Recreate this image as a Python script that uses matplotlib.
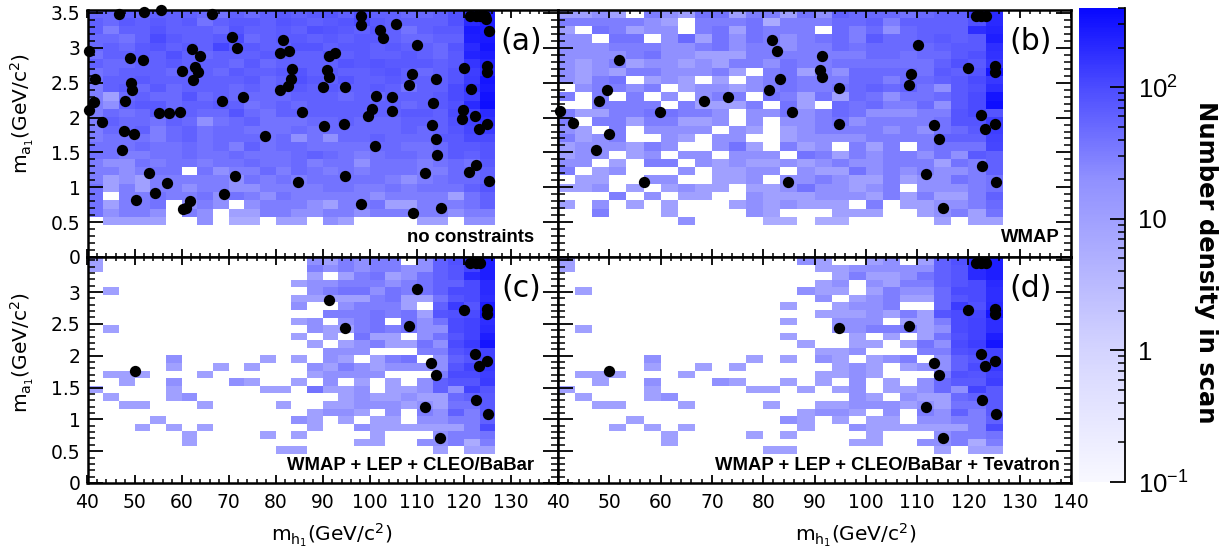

# Four panel scan density maps with a shared log colour scale
import numpy as np
import matplotlib
matplotlib.use("Agg")
import matplotlib.pyplot as plt
from matplotlib.colors import LinearSegmentedColormap, LogNorm
from matplotlib.ticker import MultipleLocator, NullFormatter

# density per cell, top row first, 0 means empty
density_a = [
    [50,50,60,50,60,60,60,50,40,60,50,60,70,60,70,80,60,90,60,60,50,50,60,90,200,250],
    [60,50,70,60,70,60,70,40,60,70,70,60,80,70,60,70,80,100,70,60,60,60,60,90,200,240],
    [60,30,60,60,80,60,60,60,50,80,60,60,70,60,90,80,70,60,80,60,40,60,70,70,280,260],
    [50,50,40,60,100,70,60,60,70,100,50,60,70,70,60,70,60,70,70,60,50,50,60,60,250,280],
    [50,60,50,70,80,60,70,60,110,70,70,60,60,80,80,60,70,70,60,70,60,60,50,80,200,300],
    [40,60,60,70,60,90,60,50,60,60,60,70,70,60,60,80,60,70,60,60,70,60,50,70,230,260],
    [60,50,50,60,60,70,60,60,60,50,70,50,60,60,60,60,80,70,80,70,70,70,60,70,160,220],
    [40,50,60,60,60,50,60,60,50,70,60,60,70,80,60,70,60,60,70,80,60,50,60,80,130,200],
    [40,60,60,70,60,60,60,60,60,60,70,50,60,90,70,60,80,60,60,70,60,60,60,80,140,300],
    [30,60,70,50,70,50,60,60,60,50,60,50,70,70,60,70,60,60,70,60,40,60,60,100,170,280],
    [30,10,50,60,50,50,80,50,60,50,50,50,50,60,60,60,50,60,50,60,60,60,70,100,130,320],
    [30,20,60,70,70,50,60,60,70,60,40,50,60,50,60,60,60,60,60,60,50,60,70,90,190,350],
    [30,50,40,50,70,60,60,50,50,80,50,40,60,60,60,60,60,60,60,60,70,70,60,100,120,190],
    [30,60,50,50,40,60,50,20,40,50,60,40,40,40,50,50,60,50,50,50,60,60,60,90,120,170],
    [30,50,50,60,30,50,60,40,50,50,40,40,40,50,40,50,50,50,50,50,60,50,60,80,110,140],
    [30,40,40,40,30,50,60,40,50,50,50,40,50,20,40,20,50,50,60,50,50,50,70,70,100,100],
    [40,40,40,50,40,40,50,40,50,30,60,40,50,50,40,40,40,40,50,50,40,40,50,70,70,80],
    [40,40,30,30,40,40,50,40,40,50,40,40,40,50,60,50,40,30,40,50,50,40,50,70,60,80],
    [30,20,20,40,30,40,40,30,40,40,50,40,40,50,30,40,40,20,40,40,40,30,40,50,40,70],
    [30,30,20,30,40,40,0,40,20,30,30,50,30,50,40,30,40,30,40,40,40,30,30,50,50,60],
    [30,10,20,10,30,30,30,30,30,20,40,30,40,30,40,40,40,40,40,30,20,30,40,50,50,60],
    [40,10,30,10,30,30,20,30,30,20,20,30,30,30,30,40,40,30,30,40,30,40,40,40,60,80],
    [40,0,30,30,40,30,30,40,20,40,30,20,40,30,30,30,30,30,20,30,30,30,30,10,40,60],
    [40,10,30,30,40,0,20,30,20,0,20,30,30,30,20,10,30,30,40,10,10,30,30,30,40,60],
    [40,20,30,30,20,0,30,20,0,10,10,30,30,20,20,30,30,20,30,30,30,30,30,20,30,30],
    [0,10,10,10,10,0,0,20,0,6,6,0,10,10,0,20,10,0,0,0,0,10,10,0,20,20],
]

density_b = [
    [10,10,20,10,0,30,20,10,40,40,10,30,30,10,40,20,60,50,50,50,40,50,60,60,140,200],
    [30,30,30,30,30,20,10,0,30,30,30,40,6,30,30,30,50,50,60,30,60,60,60,60,90,200],
    [10,0,40,30,10,20,20,0,30,40,10,40,30,30,30,0,50,30,50,20,50,60,60,60,180,220],
    [20,20,0,40,40,0,20,50,10,40,20,40,30,20,30,40,50,30,70,50,50,60,70,60,70,250],
    [20,20,20,30,30,30,20,20,30,40,20,30,30,20,30,30,50,40,50,50,50,50,60,70,70,180],
    [20,20,20,20,30,40,20,20,10,10,10,30,30,30,30,30,30,30,50,50,40,50,50,70,90,170],
    [20,10,20,30,10,20,20,10,20,10,30,30,20,40,30,30,40,40,40,40,40,40,60,90,70,150],
    [20,10,20,10,30,30,20,20,20,30,10,0,30,40,10,30,20,50,50,50,50,40,70,60,80,300],
    [20,10,30,40,0,10,20,10,0,10,0,20,30,40,30,30,30,50,50,30,50,50,60,70,100,150],
    [0,20,30,30,20,30,0,10,20,20,10,20,30,40,30,30,40,50,60,50,60,40,20,70,90,180],
    [30,0,30,0,30,0,20,0,20,30,30,0,40,30,10,40,10,50,40,20,40,40,50,70,100,300],
    [0,0,30,30,30,30,0,30,10,10,10,30,0,40,10,0,50,40,50,30,30,50,20,70,100,350],
    [30,10,10,30,30,40,40,30,30,20,0,20,20,40,20,30,50,40,20,20,20,30,30,80,100,80],
    [30,0,30,30,10,30,30,10,10,20,0,20,0,20,20,30,40,20,30,30,30,30,40,80,80,130],
    [20,10,0,30,0,20,20,20,20,0,20,10,0,10,20,30,30,30,30,20,30,20,40,50,70,130],
    [30,10,20,30,0,0,20,10,0,20,20,0,0,10,20,20,20,20,30,30,30,30,60,60,60,120],
    [10,20,20,20,10,30,20,0,0,20,40,10,0,30,10,20,0,30,10,30,0,30,40,40,40,110],
    [10,20,20,0,10,20,0,20,20,0,20,20,20,0,40,30,10,30,20,30,30,20,40,20,70,60],
    [20,20,0,10,0,30,30,0,20,10,20,10,10,20,10,20,30,20,20,30,30,30,10,40,30,60],
    [30,0,10,20,0,0,0,20,0,10,10,20,20,0,20,10,10,40,20,30,20,30,20,20,30,60],
    [0,10,10,0,0,20,20,0,0,10,10,20,0,20,20,30,20,10,10,30,10,20,20,40,30,40],
    [10,10,20,0,10,0,10,20,10,10,0,10,10,20,40,20,20,10,20,30,0,20,20,20,30,40],
    [0,0,0,30,0,20,0,10,10,0,0,20,10,10,10,20,20,20,10,30,10,30,10,10,30,60],
    [10,0,20,0,10,0,10,0,0,0,10,20,10,20,10,10,10,0,30,0,10,10,20,20,30,50],
    [0,0,30,0,0,0,10,0,0,0,0,20,10,0,0,0,10,10,10,0,0,10,20,30,10,40],
    [0,0,0,0,0,0,0,20,0,0,0,0,6,6,0,6,6,0,0,0,0,0,10,0,10,10],
]

density_c = [
    [10,0,0,0,0,0,0,0,0,0,0,0,0,0,20,10,30,20,30,30,0,20,60,90,200,250],
    [10,0,0,0,0,0,0,0,0,0,0,0,0,0,30,20,30,20,30,30,20,20,60,80,120,250],
    [0,0,0,0,0,0,0,0,0,0,0,0,0,0,10,0,10,30,40,10,20,40,60,80,200,250],
    [0,0,0,0,0,0,0,0,0,0,0,0,0,10,20,20,30,30,30,20,30,40,60,60,100,200],
    [0,10,0,0,0,0,0,0,0,0,0,0,0,0,20,30,40,40,20,40,30,40,60,100,100,200],
    [0,0,0,0,0,0,0,0,0,0,0,0,0,10,10,10,10,10,30,40,10,10,40,80,100,180],
    [0,0,0,0,0,0,0,0,0,0,0,0,0,20,0,0,20,30,30,30,10,0,60,140,80,250],
    [0,0,0,0,0,0,0,0,0,0,0,0,0,0,0,30,30,30,40,30,40,10,80,90,100,300],
    [0,0,0,0,0,0,0,0,0,0,0,0,0,10,20,0,20,30,40,0,40,20,40,100,120,180],
    [0,10,0,0,0,0,0,0,0,0,0,0,0,0,20,10,10,30,40,30,40,20,20,100,120,200],
    [0,0,0,0,0,0,0,0,0,0,0,0,0,10,0,10,0,40,10,10,0,20,40,80,120,250],
    [0,0,0,0,0,0,0,0,0,0,0,0,0,0,10,0,10,20,30,10,10,40,20,100,140,300],
    [0,0,0,0,0,0,0,0,0,0,0,0,0,0,0,20,20,20,0,0,0,30,30,80,100,120],
    [0,0,0,0,0,20,0,0,0,0,0,10,0,10,0,20,10,0,10,30,40,0,20,60,80,120],
    [0,0,0,0,0,10,0,0,10,0,10,0,0,0,20,10,30,20,10,20,20,20,20,80,120,150],
    [0,10,10,10,0,0,0,10,0,0,0,0,0,0,10,20,20,20,20,0,0,0,30,100,100,130],
    [0,0,10,0,0,20,0,0,0,20,10,0,0,10,0,20,0,10,0,10,0,20,60,80,80,140],
    [10,0,0,0,0,10,0,0,0,0,0,10,10,0,40,10,10,20,0,10,10,20,60,20,120,80],
    [0,10,0,0,0,10,20,0,0,0,0,0,0,0,0,0,10,20,10,10,20,10,10,50,60,70],
    [0,0,10,10,0,0,0,10,0,0,0,0,10,0,0,10,10,20,20,20,10,20,10,40,40,70],
    [0,0,0,0,0,0,0,0,0,0,0,0,0,0,10,20,20,10,0,20,0,30,20,60,30,70],
    [0,0,0,0,10,0,0,0,0,0,0,0,0,20,10,0,10,0,10,10,0,20,20,30,30,60],
    [0,0,0,10,0,10,0,10,0,0,0,0,0,0,10,0,0,20,10,10,10,10,10,10,30,100],
    [0,0,0,0,0,0,10,0,0,0,0,10,0,10,0,0,0,0,10,0,0,0,20,30,30,40],
    [0,0,0,0,0,0,10,0,0,0,0,0,0,0,0,0,0,10,10,0,0,20,20,30,6,30],
    [0,0,0,0,0,0,0,0,0,0,0,0,10,10,0,0,0,0,0,0,0,0,10,0,10,10],
]

density_d = [
    [10,0,0,0,0,0,0,0,0,0,0,0,0,0,20,10,0,0,10,20,0,10,60,90,200,250],
    [10,0,0,0,0,0,0,0,0,0,0,0,0,0,0,10,10,20,20,20,20,20,60,80,200,250],
    [0,0,0,0,0,0,0,0,0,0,0,0,0,0,0,0,10,30,10,10,20,40,60,80,200,250],
    [0,0,0,0,0,0,0,0,0,0,0,0,0,0,0,10,20,0,20,10,30,30,60,80,100,200],
    [0,10,0,0,0,0,0,0,0,0,0,0,0,0,20,10,10,0,10,30,20,20,50,100,100,180],
    [0,0,0,0,0,0,0,0,0,0,0,0,0,0,0,20,0,10,20,30,10,10,50,80,100,180],
    [0,0,0,0,0,0,0,0,0,0,0,0,0,10,0,0,10,20,20,30,0,0,50,140,90,200],
    [0,0,0,0,0,0,0,0,0,0,0,0,0,0,0,10,10,10,20,10,30,10,80,100,110,300],
    [0,0,0,0,0,0,0,0,0,0,0,0,0,10,0,0,20,20,20,0,10,10,30,100,120,180],
    [0,10,0,0,0,0,0,0,0,0,0,0,0,0,0,0,20,20,30,30,30,10,20,100,120,180],
    [0,0,0,0,0,0,0,0,0,0,0,0,0,10,0,0,0,10,0,10,0,10,40,90,120,250],
    [0,0,0,0,0,0,0,0,0,0,0,0,0,0,10,0,0,10,10,0,10,40,20,100,130,300],
    [0,0,0,0,0,0,0,0,0,0,0,0,0,0,0,10,10,20,0,0,0,30,30,90,100,120],
    [0,0,0,0,0,20,0,0,0,0,0,10,0,10,0,20,10,0,10,20,30,0,20,60,80,120],
    [0,0,0,0,0,10,0,0,10,0,10,0,0,0,0,0,10,20,10,0,10,20,20,60,100,150],
    [0,10,10,10,0,0,0,10,0,0,0,0,0,0,0,10,10,20,10,0,0,0,30,90,80,120],
    [0,0,10,0,0,20,0,0,0,20,10,0,0,10,0,10,0,20,0,10,0,20,50,70,70,130],
    [10,0,0,0,0,10,0,0,0,0,0,10,10,0,10,0,10,20,0,10,10,20,50,20,120,70],
    [0,10,0,0,0,10,20,0,0,0,0,0,0,0,0,0,0,20,10,0,20,10,10,50,60,70],
    [0,0,10,10,0,0,0,10,0,0,0,0,10,0,0,10,10,20,20,20,10,20,10,40,40,70],
    [0,0,0,0,0,0,0,0,0,0,0,0,0,0,10,20,20,10,0,20,0,30,20,60,30,70],
    [0,0,0,0,10,0,0,0,0,0,0,0,0,20,10,0,10,0,10,10,0,20,20,30,30,60],
    [0,0,0,10,0,10,0,10,0,0,0,0,0,0,10,0,0,20,10,10,10,10,10,10,30,100],
    [0,0,0,0,0,0,10,0,0,0,0,10,0,10,0,0,0,0,10,0,0,0,20,30,30,40],
    [0,0,0,0,0,0,10,0,0,0,0,0,0,0,0,0,0,10,10,0,0,20,20,30,6,30],
    [0,0,0,0,0,0,0,0,0,0,0,0,10,10,0,0,0,0,0,0,0,0,10,0,10,10],
]

top_x = [121.4, 122.5, 123.5]
top_y = [3.46, 3.46, 3.46]

mh_a = [40.4,40.4,41.3,41.7,43,46.8,47.9,47.4,47.8,49,49.2,49.5,49.9,50.3,52,51.8,53.1,54.3,55.2,55.6,
        56.8,57.3,59.7,60,60.3,60.9,61.8,62.2,62.5,62.9,63.4,63.9,66.5,68.5,69,70.8,71.4,71.7,73.1,77.7,
        81,80.9,81.6,82.9,82.7,83.2,83.4,84.8,85.6,90,90.3,91,91.3,91.3,92.7,94.6,94.7,94.7,98.1,98.2,
        98.2,99.6,100.4,101,101.4,102.1,102.8,104.8,104.8,105.6,108.4,108.9,109.1,110,111.7,113.2,113.5,
        114.1,114.1,114.3,115.1,119.6,119.9,120,121,121.5,122.5,122.3,123.2,125,125.3,125,125,125.3,124.5,124.8]
ma_a = [2.95,2.11,2.22,2.55,1.93,3.48,2.24,1.53,1.81,2.86,2.5,2.39,1.76,0.815,3.52,2.83,1.21,0.925,2.06,3.55,
        1.065,2.07,2.08,2.67,0.69,0.71,0.8,2.98,2.54,2.72,2.66,2.88,3.48,2.24,0.9,3.16,1.165,3,2.3,1.74,
        2.4,2.93,3.11,2.95,2.45,2.56,2.7,1.07,2.08,2.44,1.88,2.68,2.58,2.88,2.93,1.91,2.44,1.16,0.76,3.46,
        3.33,2.02,2.12,1.59,2.31,3.26,3.14,2.3,2.1,3.34,2.47,2.62,0.625,3.04,1.2,1.89,2.21,
        1.69,2.55,1.46,0.71,1.985,2.105,2.71,1.22,2.41,1.32,2.02,1.83,1.91,3.24,2.74,2.65,1.085,3.46,3.41]

mh_b = [40.4,43,48,49.6,50,47.5,51.9,56.8,59.8,68.5,73.2,81.1,81.7,82.6,83.3,84.8,85.6,91.4,91.1,91.4,
        94.8,94.7,108.4,108.9,110.1,111.7,113.2,114.2,115,120,122.4,122.6,123.2,125.2,125.1,125.2,125.3]
ma_b = [2.1,1.92,2.24,2.39,1.765,1.53,2.83,1.07,2.08,2.24,2.3,2.4,3.11,2.95,2.56,1.07,2.08,2.88,2.68,2.58,
        2.43,1.91,2.47,2.62,3.04,1.19,1.89,1.69,0.71,2.71,2.03,1.31,1.83,1.91,2.74,2.65,1.08]

mh_c = [50,91.4,94.7,108.4,110,111.7,113.1,114.1,115,120,122.3,122.5,123.2,125,125,125,125.2]
ma_c = [1.76,2.88,2.43,2.47,3.04,1.19,1.885,1.69,0.71,2.71,2.02,1.31,1.83,1.91,2.73,2.65,1.085]

mh_d = [50,94.8,108.4,111.7,113.2,114.2,115,120,122.4,122.6,123.2,125.2,125.1,125.2,125.3]
ma_d = [1.76,2.43,2.47,1.19,1.89,1.69,0.71,2.71,2.03,1.31,1.83,1.91,2.73,2.65,1.085]

x_ticks = [40, 50, 60, 70, 80, 90, 100, 110, 120, 130, 140]
y_ticks = [0, 0.5, 1, 1.5, 2, 2.5, 3, 3.5]
y_tick_labels = ["0", "0.5", "1", "1.5", "2", "2.5", "3", "3.5"]

WIDTH, HEIGHT = 1225, 552
CELL_X = 100 / 30
Y_TOP = 3.55
Y_BOTTOM = 0.456

# gray level of the bar read at a few heights, white at 0.1 to blue at 400
density_map = LinearSegmentedColormap.from_list(
    "scan",
    [(0.0, "#f8f8ff"), (0.278, "#d4d4ff"), (0.64, "#9090ff"), (0.833, "#4c4cff"), (1.0, "#0808ff")],
)
norm = LogNorm(vmin=0.1, vmax=400)


def px_axes(fig, left, top, right, bottom):
    return fig.add_axes([left / WIDTH, 1 - bottom / HEIGHT, (right - left) / WIDTH, (bottom - top) / HEIGHT])


def draw_panel(ax, density, mh, ma):
    values = np.ma.masked_equal(np.array(density, dtype=float), 0)
    xedges = 40 + CELL_X * np.arange(values.shape[1] + 1)
    yedges = np.linspace(Y_TOP, Y_BOTTOM, values.shape[0] + 1)
    mesh = ax.pcolormesh(xedges, yedges, values, cmap=density_map, norm=norm, antialiased=False, linewidth=0)

    ax.scatter(mh, ma, s=66, c="black", linewidths=0, clip_on=False, zorder=5)
    ax.scatter(top_x, top_y, s=66, c="black", linewidths=0, clip_on=False, zorder=5)

    ax.set_xlim(40, 140)
    ax.set_ylim(0, Y_TOP)
    ax.xaxis.set_minor_locator(MultipleLocator(2))
    ax.yaxis.set_minor_locator(MultipleLocator(0.1))
    ax.set_xticks(x_ticks)
    ax.set_yticks(y_ticks)
    ax.tick_params(axis="x", which="major", direction="in", top=True, bottom=True, length=5.5, width=1.3)
    ax.tick_params(axis="x", which="minor", direction="in", top=True, bottom=True, length=2.8, width=1.1)
    ax.tick_params(axis="y", which="major", direction="in", left=True, right=True, length=10.5, width=1.3)
    ax.tick_params(axis="y", which="minor", direction="in", left=True, right=True, length=5.2, width=1.1)
    ax.tick_params(which="both", labelleft=False, labelbottom=False, labelsize=13.5, pad=5)
    ax.tick_params(axis="x", which="major", pad=7)
    ax.set_axisbelow(False)
    for spine in ax.spines.values():
        spine.set_linewidth(1.8)
    return mesh


fig = plt.figure(figsize=(WIDTH / 100, HEIGHT / 100), dpi=100)

ax_a = px_axes(fig, 87.5, 9.5, 558, 257)
ax_b = px_axes(fig, 558, 9.5, 1071, 257)
ax_c = px_axes(fig, 87.5, 257, 558, 483)
ax_d = px_axes(fig, 558, 257, 1071, 483)

mesh = draw_panel(ax_a, density_a, mh_a, ma_a)
draw_panel(ax_b, density_b, mh_b, ma_b)
draw_panel(ax_c, density_c, mh_c, ma_c)
draw_panel(ax_d, density_d, mh_d, ma_d)

ax_a.tick_params(labelleft=True)
ax_a.set_yticklabels(y_tick_labels)
ax_c.tick_params(labelleft=True, labelbottom=True)
ax_c.set_yticks(y_ticks[:-1])
ax_c.set_yticklabels(y_tick_labels[:-1])
ax_c.set_xticks(x_ticks[:-1])
ax_c.set_xticklabels([str(v) for v in x_ticks[:-1]])
ax_d.tick_params(labelbottom=True)
ax_d.set_xticklabels([str(v) for v in x_ticks])

for ax, tag, y in zip((ax_a, ax_b, ax_c, ax_d), ("(a)", "(b)", "(c)", "(d)"), (3.09, 3.09, 3.06, 3.06)):
    ax.text(132.1, y, tag, fontsize=21.5, ha="center", va="center")

notes = [
    (534, 238, "no constraints"),
    (1060, 238, "WMAP"),
    (534, 465, "WMAP + LEP + CLEO/BaBar"),
    (1060, 465, "WMAP + LEP + CLEO/BaBar + Tevatron"),
]
for x, y, note in notes:
    fig.text(x / WIDTH, 1 - y / HEIGHT, note, fontsize=13.3, family="Liberation Sans", weight="bold",
             ha="right", va="center")

ylabel = r"$\mathregular{m_{a_1}}$(GeV/c$\mathregular{^2}$)"
xlabel = r"$\mathregular{m_{h_1}}$(GeV/c$\mathregular{^2}$)"
fig.text(22 / WIDTH, 1 - 113 / HEIGHT, ylabel, fontsize=14.5, rotation=90, ha="center", va="center")
fig.text(22 / WIDTH, 1 - 352 / HEIGHT, ylabel, fontsize=14.5, rotation=90, ha="center", va="center")
fig.text(332 / WIDTH, 1 - 535 / HEIGHT, xlabel, fontsize=14.5, ha="center", va="center")
fig.text(856 / WIDTH, 1 - 535 / HEIGHT, xlabel, fontsize=14.5, ha="center", va="center")

cax = px_axes(fig, 1079, 8, 1125, 482)
cbar = fig.colorbar(mesh, cax=cax)
cbar.outline.set_visible(False)
cax.spines["right"].set_visible(True)
cax.spines["right"].set_linewidth(1.3)
cax.set_yticks([0.1, 1, 10, 100])
cax.set_yticklabels([r"$\mathregular{10^{-1}}$", "1", "10", r"$\mathregular{10^{2}}$"],
                    family="Liberation Sans", fontsize=18.5)
minor_ticks = [m * d for d in (0.1, 1, 10, 100) for m in range(2, 10) if m * d <= 400]
cax.set_yticks(minor_ticks, minor=True)
cax.yaxis.set_minor_formatter(NullFormatter())
cax.tick_params(axis="y", which="major", direction="in", length=10.5, width=1.3, pad=9)
cax.tick_params(axis="y", which="minor", direction="in", length=4.8, width=1.1)
cax.set_axisbelow(False)

fig.text(1206 / WIDTH, 1 - 262 / HEIGHT, "Number density in scan", fontsize=17.5, weight="bold",
         rotation=-90, ha="center", va="center")

fig.savefig("out.png", dpi=100)
